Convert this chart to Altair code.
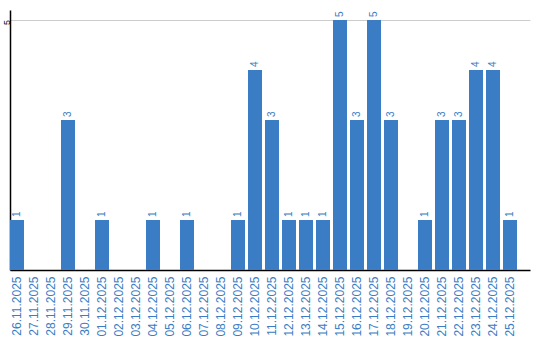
import altair as alt
import pandas as pd

dates = ["26.11.2025", "27.11.2025", "28.11.2025", "29.11.2025", "30.11.2025",
         "01.12.2025", "02.12.2025", "03.12.2025", "04.12.2025", "05.12.2025",
         "06.12.2025", "07.12.2025", "08.12.2025", "09.12.2025", "10.12.2025",
         "11.12.2025", "12.12.2025", "13.12.2025", "14.12.2025", "15.12.2025",
         "16.12.2025", "17.12.2025", "18.12.2025", "19.12.2025", "20.12.2025",
         "21.12.2025", "22.12.2025", "23.12.2025", "24.12.2025", "25.12.2025"]
counts = [1, 0, 0, 3, 0, 1, 0, 0, 1, 0, 1, 0, 0, 1, 4,
          3, 1, 1, 1, 5, 3, 5, 3, 0, 1, 3, 3, 4, 4, 1]

df = pd.DataFrame({"date": dates, "count": counts})
df["label"] = df["count"].apply(lambda v: str(v) if v > 0 else "")

BLUE = "#3b7dc4"
FONT = "Liberation Sans"

x = alt.X("date:N", sort=dates, title=None,
          scale=alt.Scale(paddingInner=0.176, paddingOuter=0.382, align=0),
          axis=alt.Axis(labelAngle=270, labelColor=BLUE, labelFontSize=12,
                        labelFont=FONT, ticks=False, domainColor="black",
                        domainWidth=1.5, labelPadding=6, grid=False))
y = alt.Y("count:Q", title=None,
          scale=alt.Scale(domain=[0, 5.2], nice=False),
          axis=alt.Axis(values=[5], labelAngle=270, labelAlign="center",
                        labelBaseline="middle", labelFontSize=9, labelFont=FONT,
                        labelColor="black", ticks=False, domainColor="black",
                        domainWidth=1.5, gridColor="#cccccc", gridWidth=1,
                        labelPadding=4, labelOffset=2))

base = alt.Chart(df)
bars = base.mark_bar(color=BLUE).encode(x=x, y=y)
text = base.mark_text(angle=270, align="left", baseline="middle", dx=3,
                      fontSize=10, font=FONT, color=BLUE).encode(
    x=alt.X("date:N", sort=dates), y="count:Q", text="label:N")

chart = (bars + text).properties(
    width=520, height=260,
    autosize=alt.AutoSizeParams(type="none"),
    padding={"left": 10, "top": 10, "right": 10, "bottom": 70},
).configure_view(stroke=None)

chart.save("out.html", embed_options={"renderer": "svg", "actions": False})
